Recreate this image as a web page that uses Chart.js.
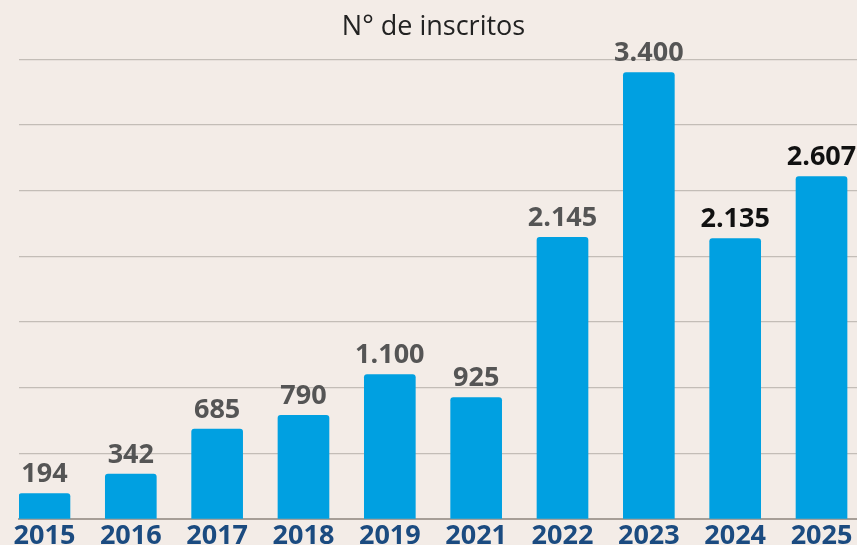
<!DOCTYPE html>
<html><head><meta charset="utf-8">
<script src="https://cdn.jsdelivr.net/npm/chart.js@4.4.1/dist/chart.umd.min.js"></script>
<style>html,body{margin:0;padding:0;background:#f3ece7;}#wrap{width:857px;height:545px;}</style>
</head><body><div id="wrap"><canvas id="c" width="857" height="545"></canvas></div>
<script>
const years = ['2015','2016','2017','2018','2019','2021','2022','2023','2024','2025'];
const inscritos = [194, 342, 685, 790, 1100, 925, 2145, 3400, 2135, 2607];
const valueLabels = ['194','342','685','790','1.100','925','2.145','3.400','2.135','2.607'];
const labelColors = ['#555','#555','#555','#555','#555','#555','#555','#555','#111','#111'];

const points = inscritos.map((v, i) => ({x: i, y: v}));

const labelPlugin = {
  id: 'valueLabels',
  afterDatasetsDraw(chart) {
    const ctx = chart.ctx;
    const meta = chart.getDatasetMeta(0);
    ctx.save();
    ctx.font = 'bold 27px "Open Sans"';
    ctx.textAlign = 'center';
    ctx.textBaseline = 'alphabetic';
    meta.data.forEach((bar, i) => {
      ctx.fillStyle = labelColors[i];
      ctx.fillText(valueLabels[i], bar.x, bar.y - 11.5);
    });
    ctx.restore();
  }
};

new Chart(document.getElementById('c'), {
  type: 'bar',
  data: { datasets: [{ data: points, backgroundColor: '#00a0e1', barThickness: 51, borderRadius: {topLeft:3, topRight:3}, borderSkipped: 'bottom' }] },
  options: {
    responsive: false, animation: false,
    layout: { padding: { left: 10, right: 0, top: 0, bottom: 0 } },
    plugins: {
      legend: { display: false }, tooltip: { enabled: false },
      title: { display: true, text: 'N° de inscritos', color: '#222', font: { family: 'Open Sans', size: 27, weight: 'normal' }, padding: { top: 11, bottom: 16 } }
    },
    scales: {
      x: {
        type: 'linear', offset: false, min: -0.295, max: 9.411,
        grid: { display: false, drawTicks: false },
        border: { display: true, color: '#a69e97', width: 2 },
        afterFit(s) { s.height = 26; },
        ticks: { stepSize: 1, includeBounds: false, autoSkip: false, maxRotation: 0, padding: 1,
          color: '#1b4b80', font: { family: 'Open Sans', size: 27, weight: 'bold' },
          callback: (v) => Number.isInteger(v) ? years[v] : '' }
      },
      y: {
        min: 0, max: 3500,
        afterFit(s) { s.width = 9; },
        ticks: { display: false, stepSize: 500 },
        grid: { color: '#c3bdb7', lineWidth: 1.2, drawTicks: false },
        border: { display: false }
      }
    }
  },
  plugins: [labelPlugin]
});
</script></body></html>
